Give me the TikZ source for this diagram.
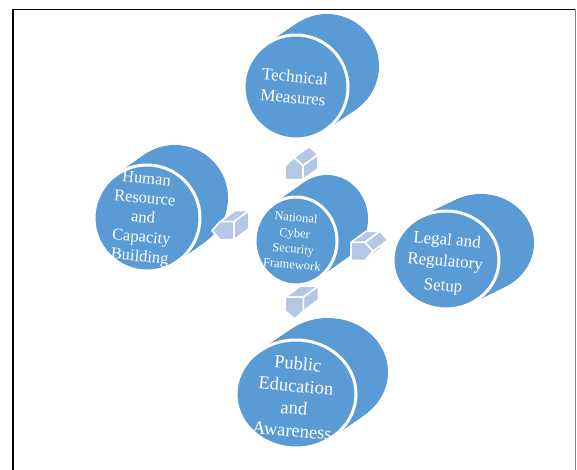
\documentclass[tikz,border=0pt]{standalone}
\usepackage{fontspec}
\setmainfont{Liberation Serif}
\usetikzlibrary{calc}

\definecolor{drumblue}{HTML}{5B9BD5}
\definecolor{arrowblue}{HTML}{B4C7E7}

\tikzset{
  drumface/.style={fill=drumblue, draw=white, line width=3pt},
  drumtext/.style={text=white, align=center, rotate=-5, inner sep=0pt},
  blockface/.style={fill=arrowblue, draw=white, line width=1.6pt, line join=round},
}

% drum: front centre, x radius, y radius, depth vector
\newcommand\drum[4]{%
  \foreach \i in {0,...,40}
    \fill[drumblue] ($(#1)+{\i/40}*(#4)$) ellipse[x radius=#2, y radius=#3];
  \draw[drumface] (#1) ellipse[x radius=#2, y radius=#3];
}

% block arrow: position, direction, visible sides
\newcommand\blockarrow[3]{%
  \begin{scope}[shift={(#1)}, rotate=#2]
    \coordinate (p1) at (-11,-9);
    \coordinate (p2) at (3,-9);
    \coordinate (p3) at (11,0);
    \coordinate (p4) at (3,9);
    \coordinate (p5) at (-11,9);
  \end{scope}
  \foreach \a/\b in {#3}
    \filldraw[blockface] (\a) -- (\b) -- ($(\b)+(15,-11)$) -- ($(\a)+(15,-11)$) -- cycle;
  \filldraw[blockface] (p1) -- (p2) -- (p3) -- (p4) -- (p5) -- cycle;
}

\begin{document}
\begin{tikzpicture}[x=1pt, y=-1pt]
  \useasboundingbox (0,0) rectangle (577,470);
  \draw[line width=1.3pt] (13,470) -- (13,9.5) -- (575,9.5);
  \draw[gray, line width=0.8pt] (575,9.5) -- (575,470);

  \drum{296,87}{52}{52}{31,-21}
  \drum{147,218}{53}{53}{28,-20}
  \drum{296,241}{41}{44}{31,-22}
  \drum{446,260}{53}{49}{35,-17}
  \drum{296,394}{60}{54}{32,-22}

  \node[drumtext, font=\fontsize{17}{21}\selectfont] (tech) at (294,87) {Technical\\Measures};
  \node[drumtext, font=\fontsize{16.5}{19.5}\selectfont] (human) at (143,219) {Human\\Resource\\and\\Capacity\\Building};
  \node[drumtext, font=\fontsize{12.5}{15.8}\selectfont] (hub) at (294,241) {National\\Cyber\\Security\\Framework};
  \node[drumtext, font=\fontsize{17}{21.5}\selectfont] (legal) at (445,264) {Legal and\\Regulatory\\[3pt]Setup};
  \node[drumtext, font=\fontsize{18.5}{22.3}\selectfont] (pub) at (295,397) {Public\\Education\\and\\Awareness};

  \blockarrow{$(hub)!0.47!(tech)$}{90}{p3/p4, p4/p5}
  \blockarrow{$(hub)!0.47!(human)$}{180}{p4/p5, p5/p1}
  \blockarrow{$(hub)!0.45!(legal)$}{0}{p1/p2, p2/p3, p3/p4}
  \blockarrow{$(hub)!0.43!(pub)$}{-90}{p5/p1, p1/p2, p2/p3}
\end{tikzpicture}
\end{document}
